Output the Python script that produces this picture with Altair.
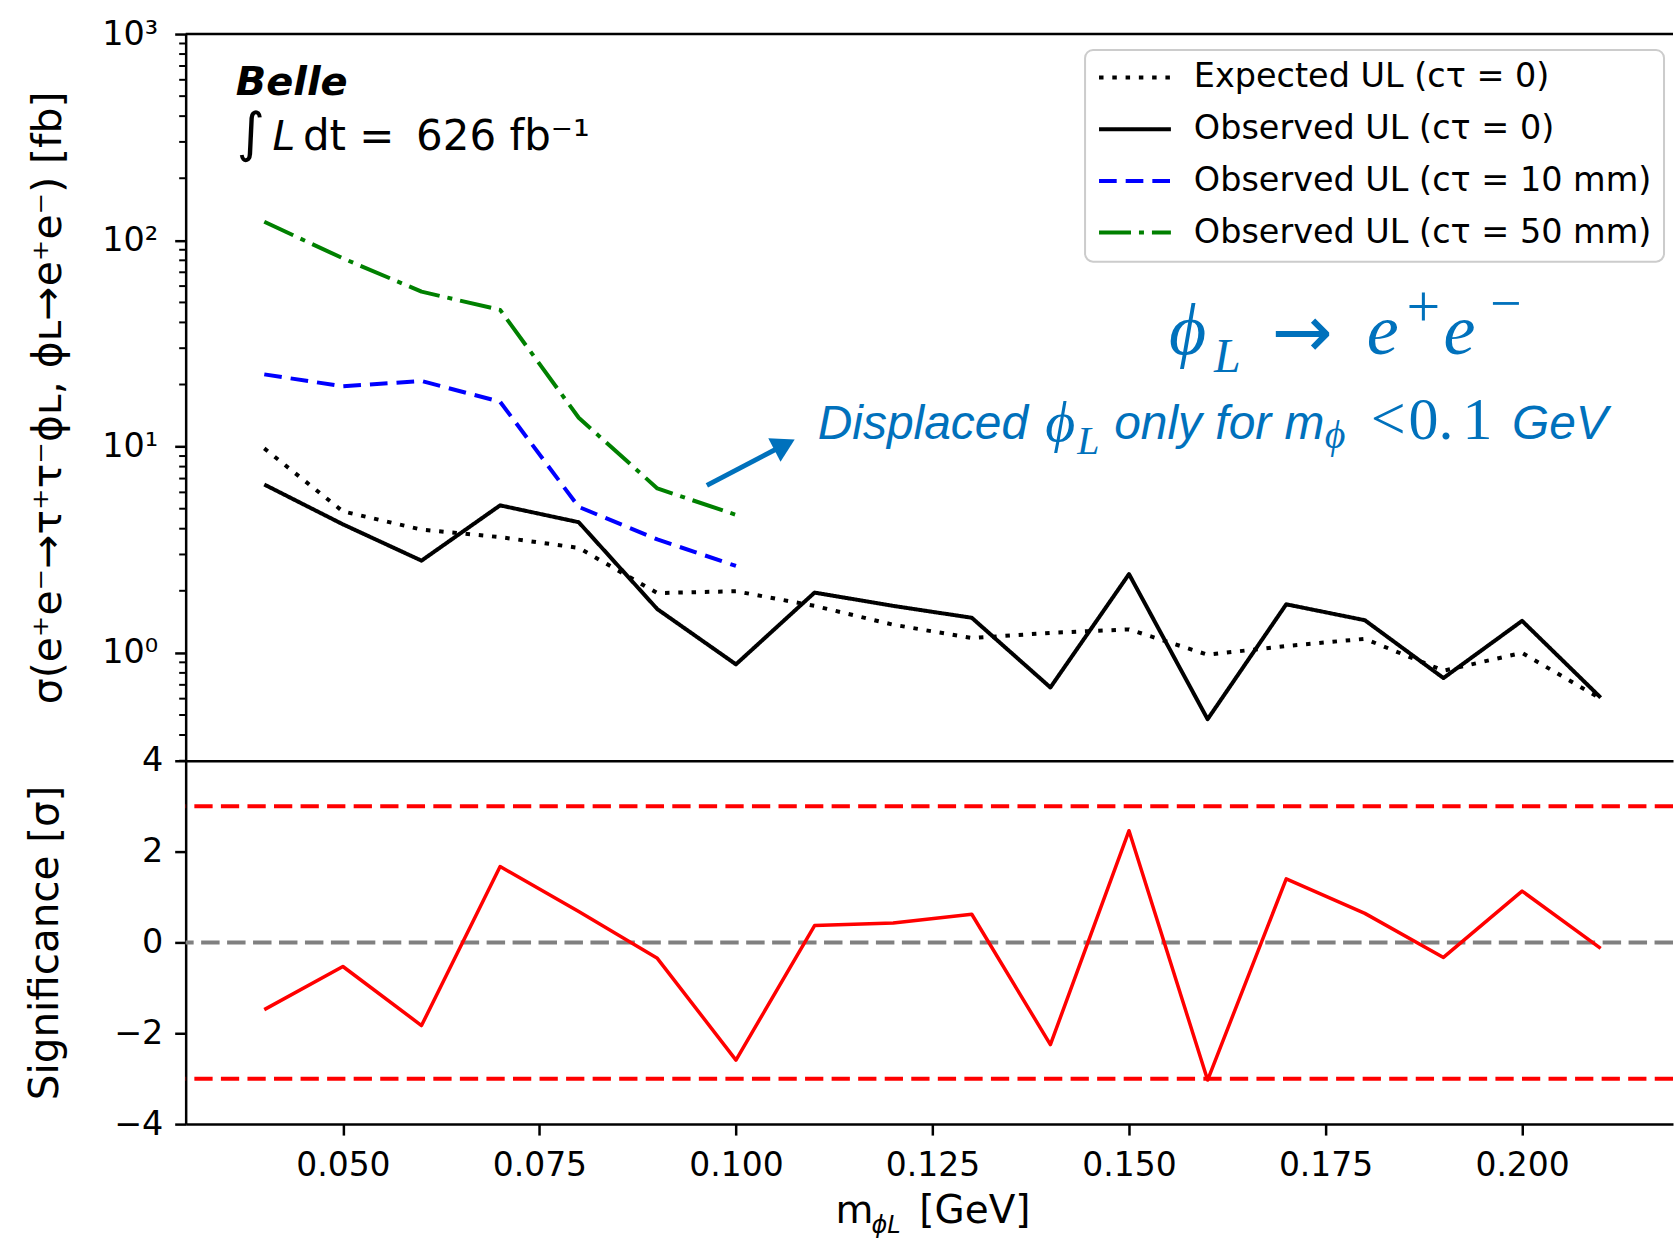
import altair as alt
import pandas as pd

# ------------------------------------------------------------------ data
mass = [0.04, 0.05, 0.06, 0.07, 0.08, 0.09, 0.10, 0.11, 0.12,
        0.13, 0.14, 0.15, 0.16, 0.17, 0.18, 0.19, 0.20, 0.21]
expected_ul = [9.8, 4.85, 3.96, 3.64, 3.23, 1.95, 1.99, 1.69, 1.37,
               1.18, 1.25, 1.30, 0.98, 1.08, 1.17, 0.82, 1.00, 0.60]
observed_ul = [6.55, 4.20, 2.80, 5.19, 4.30, 1.63, 0.88, 1.96, 1.69,
               1.48, 0.68, 2.41, 0.477, 1.72, 1.44, 0.755, 1.43, 0.607]
mass_displaced = [0.04, 0.05, 0.06, 0.07, 0.08, 0.09, 0.10]
observed_10mm = [22.4, 19.6, 20.8, 16.5, 5.1, 3.55, 2.64]
observed_50mm = [123.0, 81.8, 56.4, 46.0, 13.8, 6.27, 4.67]
significance = [-1.48, -0.53, -1.83, 1.67, 0.68, -0.35, -2.59, 0.37, 0.43,
                0.62, -2.25, 2.46, -3.03, 1.40, 0.64, -0.33, 1.13, -0.13]

series_names = ["Expected UL (cτ = 0)", "Observed UL (cτ = 0)",
                "Observed UL (cτ = 10 mm)", "Observed UL (cτ = 50 mm)"]
series_colors = ["#000000", "#000000", "#0000ff", "#008000"]
series_dashes = [[4.5, 8.8], [1, 0], [17.7, 9], [32, 8, 5, 8]]

y_major_ticks = [1, 10, 100, 1000]
y_major_labels = ["10⁰", "10¹", "10²", "10³"]
y_minor_ticks = [0.3, 0.4, 0.5, 0.6, 0.7, 0.8, 0.9,
                 2, 3, 4, 5, 6, 7, 8, 9,
                 20, 30, 40, 50, 60, 70, 80, 90,
                 200, 300, 400, 500, 600, 700, 800, 900]
x_ticks = [0.05, 0.075, 0.10, 0.125, 0.15, 0.175, 0.20]
sig_ticks = [-4, -2, 0, 2, 4]
sig_limits = [3, -3]
sig_zero = [0]

BLUE = "#0071BC"

# annotation texts (data coordinates: GeV, fb)
belle_text = [("Belle", 0.03637, 506.7)]
lumi_int = [("∫", 0.03650, 271.5, 54)]
lumi_L = [("L", 0.04103, 274.5)]
lumi_rest = [("dt   = \u2009626 fb⁻¹", 0.04492, 274.5)]
blue_serif_italic = [("ϕ", 0.15509, 28.26, 72), ("L", 0.16080, 23.12, 48),
                     ("e", 0.18023, 28.26, 72), ("e", 0.19001, 28.26, 72),
                     ("ϕ", 0.13935, 10.6, 58), ("L", 0.14341, 9.168, 40),
                     ("ϕ", 0.17490, 9.80, 40)]
blue_serif = [("+", 0.18531, 38.6, 60), ("−", 0.19592, 40.36, 56),
              ("<", 0.18074, 10.83, 62), ("0.", 0.18556, 10.83, 60),
              ("1", 0.19242, 10.83, 60)]
blue_arrow_glyph = [("→", 0.16817, 27.18, 73)]
blue_sans_italic = [("Displaced", 0.11040, 10.83), ("only for m", 0.14811, 10.83),
                    ("GeV", 0.19871, 10.83)]
arrow_tail = (0.09630, 6.49)
arrow_head = (0.10618, 10.21)

# ------------------------------------------------------------------ layout
W = 1490
H_TOP = 728
H_BOT = 364
X_DOMAIN = [0.03, 0.2192]
Y_DOMAIN = [0.3, 1000]
FONT = "DejaVu Sans"

x_scale = alt.Scale(domain=X_DOMAIN, nice=False, zero=False)
y_scale_top = alt.Scale(type="log", domain=Y_DOMAIN, nice=False)
y_scale_bot = alt.Scale(domain=[-4, 4], nice=False, zero=False)

label_expr = " : ".join(
    f"datum.value == {v} ? '{l}'" for v, l in zip(y_major_ticks[:-1], y_major_labels[:-1])
) + f" : '{y_major_labels[-1]}'"

x_axis_top = alt.Axis(domain=True, domainColor="black", domainWidth=2.5,
                      ticks=False, labels=False, title=None, grid=False)
y_axis_top = alt.Axis(values=y_major_ticks, labelExpr=label_expr, grid=False,
                      tickSize=11, tickWidth=2.5, tickColor="black",
                      domainColor="black", domainWidth=2.5,
                      labelFont=FONT, labelFontSize=33.5, labelColor="black",
                      labelPadding=17,
                      title="σ(e⁺e⁻→τ⁺τ⁻ϕʟ, ϕʟ→e⁺e⁻) [fb]",
                      titleFont=FONT, titleFontSize=41, titleFontWeight="normal",
                      titleColor="black", titleX=-137, titleBaseline="middle")


def X_top():
    return alt.X("x:Q", scale=x_scale, axis=x_axis_top)


def Y_top():
    return alt.Y("y:Q", scale=y_scale_top, axis=y_axis_top)


rows = []
for name, xs, ys in [(series_names[0], mass, expected_ul),
                     (series_names[1], mass, observed_ul),
                     (series_names[2], mass_displaced, observed_10mm),
                     (series_names[3], mass_displaced, observed_50mm)]:
    for a, b in zip(xs, ys):
        rows.append({"x": a, "y": b, "series": name})
ul_df = pd.DataFrame(rows)

legend = alt.Legend(orient="none", legendX=901, legendY=16, title=None,
                    symbolType="stroke", symbolSize=5184, symbolStrokeWidth=4,
                    labelFont=FONT, labelFontSize=33.5, labelColor="black",
                    labelOffset=21, rowPadding=17.8, padding=12, labelLimit=1000,
                    clipHeight=31,
                    fillColor="white", strokeColor="#cccccc", cornerRadius=8)

lines = alt.Chart(ul_df).mark_line(strokeWidth=4, strokeJoin="round").encode(
    x=X_top(), y=Y_top(),
    color=alt.Color("series:N", scale=alt.Scale(domain=series_names, range=series_colors),
                    legend=legend),
    strokeDash=alt.StrokeDash("series:N",
                              scale=alt.Scale(domain=series_names, range=series_dashes),
                              legend=legend),
)

top_spine = alt.Chart(pd.DataFrame({"a": [0]})).mark_rule(
    color="black", strokeWidth=2.5).encode(
    y=alt.value(0), x=alt.value(0), x2=alt.value(W))

minor = alt.Chart(pd.DataFrame({"y": y_minor_ticks})).mark_rule(
    color="black", strokeWidth=2).encode(
    y=Y_top(), x=alt.value(-6.5), x2=alt.value(0))


def txt_df(items, with_size=False):
    if with_size:
        return pd.DataFrame([{"t": t, "x": a, "y": b, "s": s} for t, a, b, s in items])
    return pd.DataFrame([{"t": t, "x": a, "y": b} for t, a, b in items])


belle = alt.Chart(txt_df(belle_text)).mark_text(
    font=FONT, fontSize=40, fontWeight="bold", fontStyle="italic",
    align="left", baseline="alphabetic", color="black").encode(
    x=X_top(), y=Y_top(), text="t:N")
integral = alt.Chart(txt_df(lumi_int, True)).mark_text(
    font=FONT, align="left", baseline="alphabetic", color="black").encode(
    x=X_top(), y=Y_top(), text="t:N", size=alt.Size("s:Q", scale=None, legend=None))
lumiL = alt.Chart(txt_df(lumi_L)).mark_text(
    font=FONT, fontSize=41, fontStyle="italic", align="left",
    baseline="alphabetic", color="black").encode(x=X_top(), y=Y_top(), text="t:N")
lumiR = alt.Chart(txt_df(lumi_rest)).mark_text(
    font=FONT, fontSize=42, align="left", baseline="alphabetic",
    color="black").encode(x=X_top(), y=Y_top(), text="t:N")

b_si = alt.Chart(txt_df(blue_serif_italic, True)).mark_text(
    font="Liberation Serif", fontStyle="italic", align="left",
    baseline="alphabetic", color=BLUE).encode(
    x=X_top(), y=Y_top(), text="t:N", size=alt.Size("s:Q", scale=None, legend=None))
b_s = alt.Chart(txt_df(blue_serif, True)).mark_text(
    font="Liberation Serif", align="left", baseline="alphabetic", color=BLUE).encode(
    x=X_top(), y=Y_top(), text="t:N", size=alt.Size("s:Q", scale=None, legend=None))
b_arrow = alt.Chart(txt_df(blue_arrow_glyph, True)).mark_text(
    font=FONT, align="left", baseline="alphabetic", color=BLUE).encode(
    x=X_top(), y=Y_top(), text="t:N", size=alt.Size("s:Q", scale=None, legend=None))
b_sans = alt.Chart(txt_df(blue_sans_italic)).mark_text(
    font="Liberation Sans", fontStyle="italic", fontSize=48, align="left",
    baseline="alphabetic", color=BLUE).encode(x=X_top(), y=Y_top(), text="t:N")

arrow_df = pd.DataFrame({"x": [arrow_tail[0]], "y": [arrow_tail[1]],
                         "x2": [arrow_head[0]], "y2": [arrow_head[1]]})
arrow_line = alt.Chart(arrow_df).mark_rule(color=BLUE, strokeWidth=5).encode(
    x=X_top(), y=Y_top(), x2="x2:Q", y2="y2:Q")
arrow_tip = alt.Chart(pd.DataFrame({"x": [arrow_head[0]], "y": [arrow_head[1]]})).mark_point(
    shape="triangle-up", filled=True, size=700, angle=62.4, color=BLUE, opacity=1).encode(
    x=X_top(), y=Y_top())

top = alt.layer(lines, top_spine, minor, belle, integral, lumiL, lumiR,
                b_si, b_s, b_arrow, b_sans, arrow_line, arrow_tip).properties(
    width=W, height=H_TOP)

# ------------------------------------------------------------------ bottom
x_axis_bot = alt.Axis(values=x_ticks, format=".3f", grid=False,
                      tickSize=11, tickWidth=2.5, tickColor="black",
                      domainColor="black", domainWidth=2.5,
                      labelFont=FONT, labelFontSize=33, labelColor="black",
                      labelPadding=14, title=None)
y_axis_bot = alt.Axis(values=sig_ticks, grid=False,
                      tickSize=11, tickWidth=2.5, tickColor="black",
                      domainColor="black", domainWidth=2.5,
                      labelFont=FONT, labelFontSize=33.5, labelColor="black",
                      labelPadding=12,
                      title="Significance [σ]", titleFont=FONT, titleFontSize=40.5,
                      titleFontWeight="normal", titleColor="black",
                      titleX=-140, titleBaseline="middle")


def X_bot():
    return alt.X("x:Q", scale=x_scale, axis=x_axis_bot)


def Y_bot():
    return alt.Y("y:Q", scale=y_scale_bot, axis=y_axis_bot)


sig_line = alt.Chart(pd.DataFrame({"x": mass, "y": significance})).mark_line(
    color="#ff0000", strokeWidth=3.5, strokeJoin="round").encode(x=X_bot(), y=Y_bot())
lim_rules = alt.Chart(pd.DataFrame({"y": sig_limits})).mark_rule(
    color="#ff0000", strokeWidth=4, strokeDash=[18.3, 8.3]).encode(y=Y_bot())
zero_rule = alt.Chart(pd.DataFrame({"y": sig_zero})).mark_rule(
    color="#808080", strokeWidth=4, strokeDash=[18.5, 7.5]).encode(y=Y_bot())

xt_main = alt.Chart(pd.DataFrame({"t": ["m", "[GeV]"], "px": [651, 735]})).mark_text(
    font=FONT, fontSize=39, align="left", baseline="alphabetic", color="black").encode(
    text="t:N", x=alt.X("px:Q", scale=None), y=alt.value(463))
xt_sub = alt.Chart(pd.DataFrame({"t": ["ϕL"], "px": [687]})).mark_text(
    font=FONT, fontSize=24, fontStyle="italic", align="left", baseline="alphabetic",
    color="black").encode(text="t:N", x=alt.X("px:Q", scale=None), y=alt.value(473))

bottom = alt.layer(zero_rule, lim_rules, sig_line, xt_main, xt_sub).properties(
    width=W, height=H_BOT)

chart = alt.vconcat(top, bottom, spacing=0, bounds="flush").properties(
    padding={"left": 25, "top": 16, "right": 0, "bottom": 3},
    background="white",
).configure_view(stroke=None).configure_legend(strokeWidth=2)

chart.save("out.html", embed_options={"renderer": "svg", "actions": False})
